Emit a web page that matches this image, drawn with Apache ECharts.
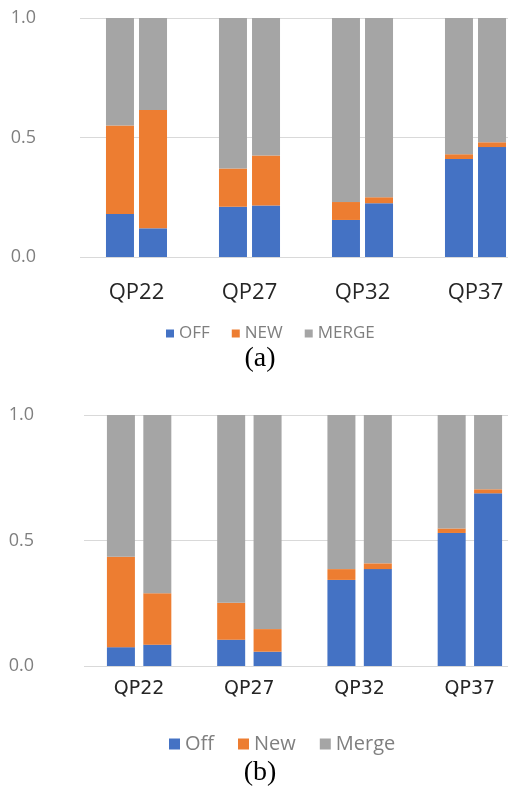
<!DOCTYPE html>
<html>
<head>
<meta charset="utf-8">
<script src="https://cdn.jsdelivr.net/npm/echarts@6/dist/echarts.min.js"></script>
<style>
  html, body { margin: 0; padding: 0; background: #fff; overflow: hidden; }
  /* wider than the window: the reference crops the last category band */
  #main { width: 540px; height: 799px; }
</style>
</head>
<body>
<div id="main"></div>
<script>
// categories and tick labels
var categories = ['QP22', 'QP27', 'QP32', 'QP37'];
var yTicks = [0, 0.5, 1.0];

// (a) first bar of each pair / second bar of each pair
var offA1 = [0.18, 0.21, 0.155, 0.41];
var newA1 = [0.37, 0.16, 0.075, 0.02];
var mergeA1 = [0.45, 0.63, 0.77, 0.57];
var offA2 = [0.12, 0.215, 0.225, 0.46];
var newA2 = [0.495, 0.21, 0.025, 0.02];
var mergeA2 = [0.385, 0.575, 0.75, 0.52];

// (b)
var offB1 = [0.075, 0.105, 0.343, 0.53];
var newB1 = [0.36, 0.147, 0.043, 0.018];
var mergeB1 = [0.565, 0.748, 0.614, 0.452];
var offB2 = [0.085, 0.057, 0.386, 0.688];
var newB2 = [0.205, 0.09, 0.023, 0.016];
var mergeB2 = [0.71, 0.853, 0.591, 0.296];

var BLUE = '#4472C4', ORANGE = '#ED7D31', GRAY = '#A5A5A5';

function bar(name, data, stack, color, idx, gap) {
  return {
    name: name, type: 'bar', data: data, stack: stack,
    xAxisIndex: idx, yAxisIndex: idx,
    barWidth: 28, barGap: gap,
    itemStyle: { color: color },
    emphasis: { disabled: true }
  };
}

function yAxis(idx, margin) {
  return {
    type: 'value', gridIndex: idx, min: 0, max: 1, interval: 0.5,
    axisLine: { show: false }, axisTick: { show: false },
    splitLine: { lineStyle: { color: '#D9D9D9', width: 1 } },
    axisLabel: {
      margin: margin, color: '#7F7F7F', fontSize: 18,
      fontFamily: 'Open Sans',
      formatter: function (v) { return v.toFixed(1); }
    }
  };
}

var chart = echarts.init(document.getElementById('main'));
chart.setOption({
  animation: false,
  grid: [
    { left: 80, right: 8, top: 18, height: 239 },
    { left: 84, right: 15, top: 415, height: 251 }
  ],
  xAxis: [
    {
      type: 'category', gridIndex: 0, data: categories,
      axisLine: { show: false }, axisTick: { show: false },
      axisLabel: { margin: 25, color: '#262626', fontSize: 22, fontFamily: 'Open Sans' }
    },
    {
      type: 'category', gridIndex: 1, data: categories,
      axisLine: { show: false }, axisTick: { show: false },
      axisLabel: { margin: 14, color: '#262626', fontSize: 19, fontFamily: 'DejaVu Sans' }
    }
  ],
  yAxis: [yAxis(0, 44), yAxis(1, 50)],
  legend: [
    {
      data: ['OFF', 'NEW', 'MERGE'], top: 320, left: 161,
      itemWidth: 8, itemHeight: 8, itemGap: 22, icon: 'rect',
      textStyle: { color: '#7F7F7F', fontSize: 17, fontFamily: 'Open Sans' }
    },
    {
      data: ['Off', 'New', 'Merge'], top: 729, left: 164,
      itemWidth: 11, itemHeight: 11, itemGap: 24, icon: 'rect',
      textStyle: { color: '#7F7F7F', fontSize: 20, fontFamily: 'Open Sans' }
    }
  ],
  graphic: [
    { type: 'text', x: 260, y: 345, style: { text: '(a)', textAlign: 'center', fontSize: 28, fontFamily: 'Liberation Serif', fill: '#000' } },
    { type: 'text', x: 260, y: 759, style: { text: '(b)', textAlign: 'center', fontSize: 28, fontFamily: 'Liberation Serif', fill: '#000' } }
  ],
  series: [
    bar('OFF', offA1, 'a1', BLUE, 0, '18%'),
    bar('NEW', newA1, 'a1', ORANGE, 0, '18%'),
    bar('MERGE', mergeA1, 'a1', GRAY, 0, '18%'),
    bar('OFF', offA2, 'a2', BLUE, 0, '18%'),
    bar('NEW', newA2, 'a2', ORANGE, 0, '18%'),
    bar('MERGE', mergeA2, 'a2', GRAY, 0, '18%'),
    bar('Off', offB1, 'b1', BLUE, 1, '30%'),
    bar('New', newB1, 'b1', ORANGE, 1, '30%'),
    bar('Merge', mergeB1, 'b1', GRAY, 1, '30%'),
    bar('Off', offB2, 'b2', BLUE, 1, '30%'),
    bar('New', newB2, 'b2', ORANGE, 1, '30%'),
    bar('Merge', mergeB2, 'b2', GRAY, 1, '30%')
  ]
});
</script>
</body>
</html>
